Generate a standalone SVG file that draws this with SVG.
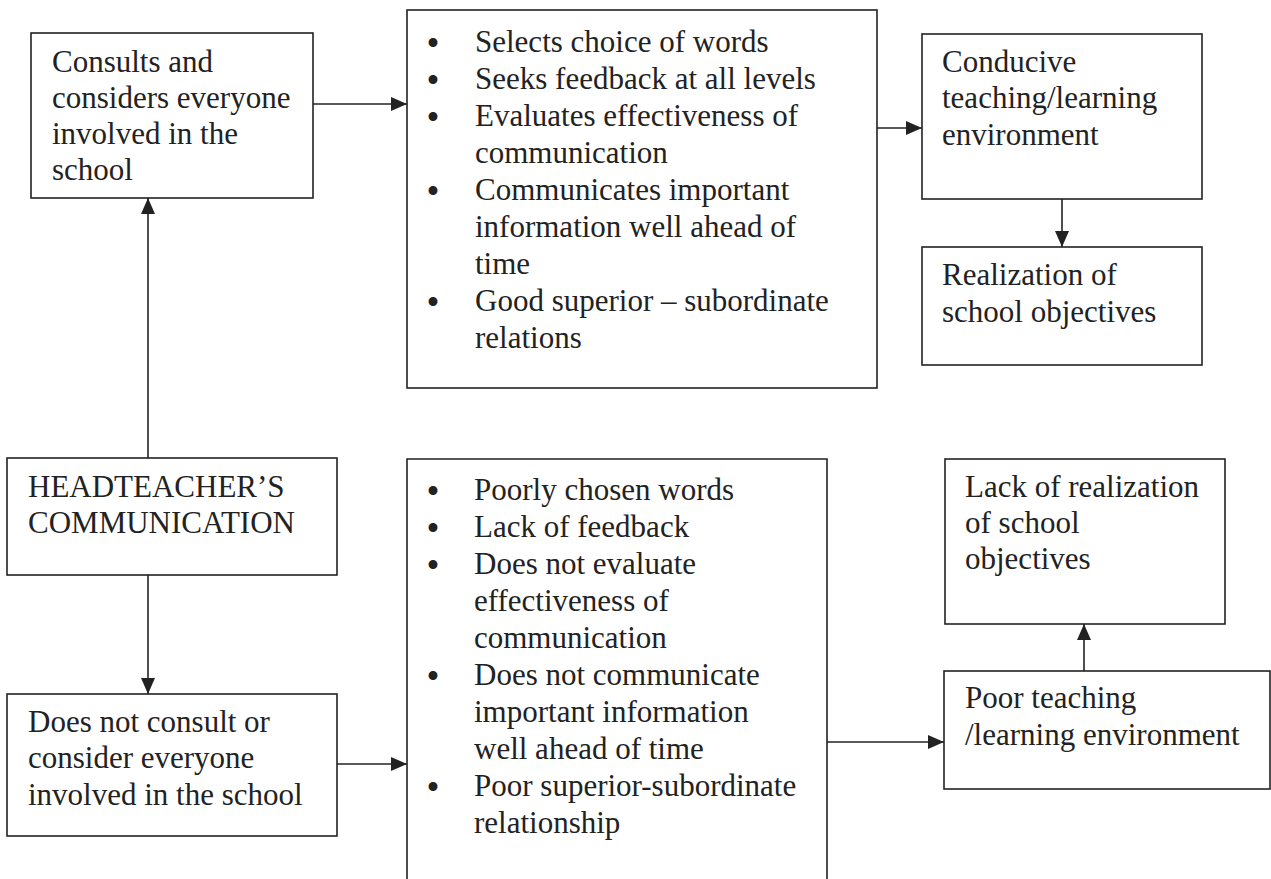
<svg xmlns="http://www.w3.org/2000/svg" width="1271" height="879" viewBox="0 0 1271 879">
  <style>
    .box { fill: #ffffff; stroke: #222222; stroke-width: 1.6; }
    .lbl { font-family: "Liberation Serif", "Times New Roman", serif; font-size: 31px; fill: #222222; }
    .bul { font-size: 37px; text-anchor: middle; }
    .item { text-anchor: start; }
    .edge { fill: none; stroke: #222222; stroke-width: 1.6; }
  </style>
  <defs>
    <marker id="arrow" viewBox="0 0 16 14" refX="16" refY="7" markerWidth="16" markerHeight="14" markerUnits="userSpaceOnUse" orient="auto">
      <path d="M0,0 L16,7 L0,14 Z" fill="#222222"/>
    </marker>
  </defs>
  <rect width="1271" height="879" fill="#ffffff"/>

  <!-- connectors -->
  <g id="connectors">
    <line class="edge" x1="148" y1="458" x2="148" y2="198" marker-end="url(#arrow)"/>
    <line class="edge" x1="148" y1="575" x2="148" y2="694" marker-end="url(#arrow)"/>
    <line class="edge" x1="313" y1="104" x2="407" y2="104" marker-end="url(#arrow)"/>
    <line class="edge" x1="877" y1="128" x2="922" y2="128" marker-end="url(#arrow)"/>
    <line class="edge" x1="1062" y1="199" x2="1062" y2="247" marker-end="url(#arrow)"/>
    <line class="edge" x1="337" y1="764" x2="407" y2="764" marker-end="url(#arrow)"/>
    <line class="edge" x1="827" y1="742" x2="944" y2="742" marker-end="url(#arrow)"/>
    <line class="edge" x1="1084" y1="671" x2="1084" y2="624" marker-end="url(#arrow)"/>
  </g>

  <!-- consults and considers -->
  <g id="consults">
    <rect class="box" x="31" y="33" width="282" height="165"/>
    <text class="lbl" x="52" y="72">Consults and</text>
    <text class="lbl" x="52" y="108">considers everyone</text>
    <text class="lbl" x="52" y="144">involved in the</text>
    <text class="lbl" x="52" y="180">school</text>
  </g>

  <!-- positive practices -->
  <g id="good-practices">
    <rect class="box" x="407" y="10" width="470" height="378"/>
    <text class="lbl" y="52"><tspan class="bul" x="433" dy="4">•</tspan><tspan class="item" x="475" dy="-4">Selects choice of words</tspan></text>
    <text class="lbl" y="89"><tspan class="bul" x="433" dy="4">•</tspan><tspan class="item" x="475" dy="-4">Seeks feedback at all levels</tspan></text>
    <text class="lbl" y="126"><tspan class="bul" x="433" dy="4">•</tspan><tspan class="item" x="475" dy="-4">Evaluates effectiveness of</tspan></text>
    <text class="lbl" x="475" y="163">communication</text>
    <text class="lbl" y="200"><tspan class="bul" x="433" dy="4">•</tspan><tspan class="item" x="475" dy="-4">Communicates important</tspan></text>
    <text class="lbl" x="475" y="237">information well ahead of</text>
    <text class="lbl" x="475" y="274">time</text>
    <text class="lbl" y="311"><tspan class="bul" x="433" dy="4">•</tspan><tspan class="item" x="475" dy="-4">Good superior – subordinate</tspan></text>
    <text class="lbl" x="475" y="348">relations</text>
  </g>

  <!-- conducive environment -->
  <g id="conducive">
    <rect class="box" x="922" y="34" width="280" height="165"/>
    <text class="lbl" x="942" y="72">Conducive</text>
    <text class="lbl" x="942" y="108">teaching/learning</text>
    <text class="lbl" x="942" y="145">environment</text>
  </g>

  <!-- realization -->
  <g id="realization">
    <rect class="box" x="922" y="247" width="280" height="118"/>
    <text class="lbl" x="942" y="285">Realization of</text>
    <text class="lbl" x="942" y="322">school objectives</text>
  </g>

  <!-- central node -->
  <g id="headteacher">
    <rect class="box" x="7" y="458" width="330" height="117"/>
    <text class="lbl" x="28" y="497">HEADTEACHER’S</text>
    <text class="lbl" x="28" y="533">COMMUNICATION</text>
  </g>

  <!-- does not consult -->
  <g id="not-consult">
    <rect class="box" x="7" y="694" width="330" height="142"/>
    <text class="lbl" x="28" y="732">Does not consult or</text>
    <text class="lbl" x="28" y="768">consider everyone</text>
    <text class="lbl" x="28" y="805">involved in the school</text>
  </g>

  <!-- negative practices -->
  <g id="poor-practices">
    <path class="box" d="M407,890 L407,459 L827,459 L827,890"/>
    <text class="lbl" y="500"><tspan class="bul" x="433" dy="4">•</tspan><tspan class="item" x="474" dy="-4">Poorly chosen words</tspan></text>
    <text class="lbl" y="537"><tspan class="bul" x="433" dy="4">•</tspan><tspan class="item" x="474" dy="-4">Lack of feedback</tspan></text>
    <text class="lbl" y="574"><tspan class="bul" x="433" dy="4">•</tspan><tspan class="item" x="474" dy="-4">Does not evaluate</tspan></text>
    <text class="lbl" x="474" y="611">effectiveness of</text>
    <text class="lbl" x="474" y="648">communication</text>
    <text class="lbl" y="685"><tspan class="bul" x="433" dy="4">•</tspan><tspan class="item" x="474" dy="-4">Does not communicate</tspan></text>
    <text class="lbl" x="474" y="722">important information</text>
    <text class="lbl" x="474" y="759">well ahead of time</text>
    <text class="lbl" y="796"><tspan class="bul" x="433" dy="4">•</tspan><tspan class="item" x="474" dy="-4">Poor superior-subordinate</tspan></text>
    <text class="lbl" x="474" y="833">relationship</text>
  </g>

  <!-- lack of realization -->
  <g id="lack-realization">
    <rect class="box" x="945" y="459" width="280" height="165"/>
    <text class="lbl" x="965" y="497">Lack of realization</text>
    <text class="lbl" x="965" y="533">of school</text>
    <text class="lbl" x="965" y="569">objectives</text>
  </g>

  <!-- poor environment -->
  <g id="poor-environment">
    <rect class="box" x="944" y="671" width="326" height="118"/>
    <text class="lbl" x="965" y="708">Poor teaching</text>
    <text class="lbl" x="965" y="745">/learning environment</text>
  </g>
</svg>
